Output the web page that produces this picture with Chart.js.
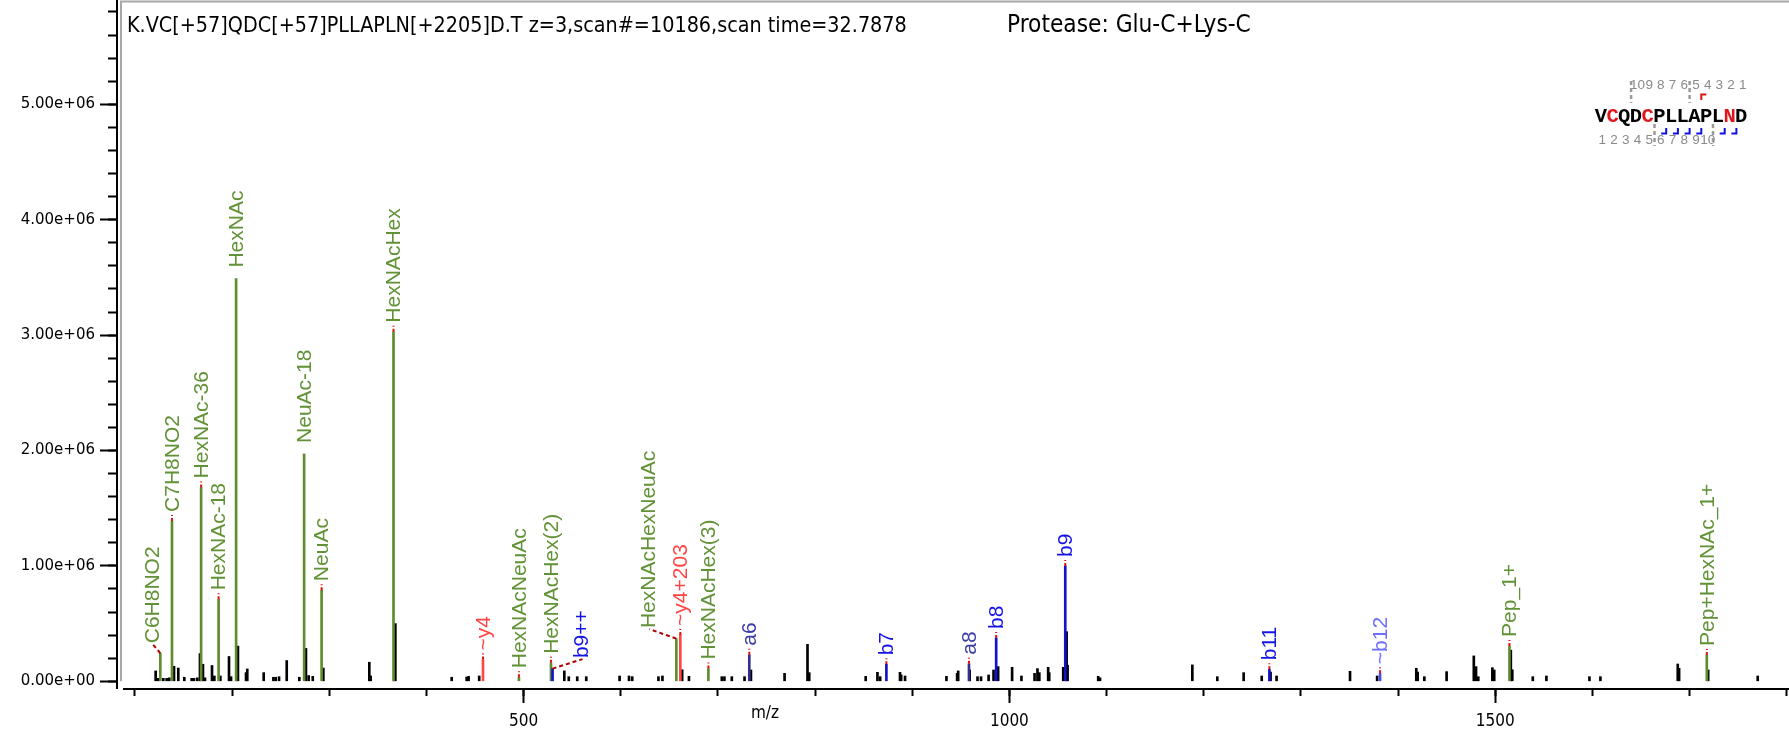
<!DOCTYPE html>
<html><head><meta charset="utf-8">
<script src="https://cdn.jsdelivr.net/npm/chart.js@4.4.1/dist/chart.umd.min.js"></script>
<style>html,body{margin:0;padding:0;background:#fff;overflow:hidden}canvas{display:block}</style>
</head><body>
<canvas id="c" width="1789" height="731"></canvas>
<script>
// ---------------- DATA ----------------
const titleText = 'K.VC[+57]QDC[+57]PLLAPLN[+2205]D.T z=3,scan#=10186,scan time=32.7878';
const proteaseText = 'Protease: Glu-C+Lys-C';
const xAxisTitle = 'm/z';

const xMajorTicks = [500, 1000, 1500];
const xMinorTicks = [100, 200, 300, 400, 500, 600, 700, 800, 900, 1000, 1100, 1200, 1300, 1400, 1500, 1600, 1700, 1800];
const yMajorTicks = [0, 1000000, 2000000, 3000000, 4000000, 5000000];
const yTickLabels = ['0.00e+00', '1.00e+06', '2.00e+06', '3.00e+06', '4.00e+06', '5.00e+06'];
const yMinorTicks = [0, 200000, 400000, 600000, 800000, 1000000, 1200000, 1400000, 1600000, 1800000, 2000000,
  2200000, 2400000, 2600000, 2800000, 3000000, 3200000, 3400000, 3600000, 3800000, 4000000,
  4200000, 4400000, 4600000, 4800000, 5000000, 5200000, 5400000, 5600000, 5800000];

// unannotated peaks
const peakMz = [121.3,124.0,129.2,132.6,135.4,140.2,144.6,150.8,158.4,160.8,
  164.2,166.9,170.0,172.1,179.3,181.7,187.9,196.8,198.9,206.0,
  214.3,215.6,232.5,242.5,244.8,248.3,256.2,269.2,276.0,278.8,
  283.0,293.9,341.2,342.6,368.0,426.0,441.4,443.4,454.3,541.9,
  546.5,555.2,564.5,598.8,608.5,611.8,638.8,642.9,663.2,670.2,
  704.0,706.7,714.3,727.4,734.0,768.6,792.2,794.0,852.1,864.2,
  867.0,887.4,888.6,892.6,935.2,946.2,947.3,959.1,967.2,970.8,
  978.6,983.7,988.4,1002.8,1012.4,1025.9,1028.9,1030.8,1039.9,1041.0,
  1055.4,1058.9,1059.9,1091.4,1093.3,1188.3,1214.0,1241.1,1259.7,1268.8,
  1275.0,1350.6,1378.5,1418.8,1420.2,1427.1,1450.0,1478.0,1480.3,1482.6,
  1497.1,1499.0,1516.1,1517.6,1538.7,1552.7,1597.0,1608.3,1687.9,1689.3,
  1719.2,1770.2];
const peakIntensity = [90000,26000,26000,26000,30000,130000,115000,35000,26000,26000,
  30000,240000,148000,30000,137000,46000,46000,215000,40000,305000,
  75000,107000,75000,35000,35000,40000,180000,35000,285000,50000,
  43000,115000,165000,46000,500000,35000,37000,43000,46000,90000,
  40000,40000,40000,46000,46000,40000,40000,46000,100000,43000,
  40000,40000,40000,40000,98000,69000,320000,75000,43000,78000,
  40000,78000,55000,46000,43000,69000,90000,98000,40000,40000,
  55000,98000,127000,121000,46000,69000,110000,75000,121000,75000,
  121000,430000,140000,43000,30000,142000,40000,75000,46000,80000,
  46000,87000,46000,113000,80000,40000,84000,220000,127000,40000,
  118000,98000,270000,100000,40000,46000,40000,40000,150000,113000,
  98000,46000];

// annotated (matched) peaks
const ionLabel = ['C6H8NO2','C7H8NO2','HexNAc-36','HexNAc-18','HexNAc','NeuAc-18','NeuAc','HexNAcHex',
  '~y4','HexNAcNeuAc','HexNAcHex(2)','b9++','HexNAcHexNeuAc','~y4+203','HexNAcHex(3)','a6',
  'b7','a8','b8','b9','b11','~b12','Pep_1+','Pep+HexNAc_1+'];
const ionMz = [126.1,138.1,168.1,186.1,204.1,274.1,292.1,366.1,
  458.2,495.2,528.2,529.8,657.2,661.3,690.2,732.3,
  873.4,958.4,986.4,1057.5,1267.6,1381.5,1514.7,1717.8];
const ionIntensity = [243000,1390000,1680000,710000,3490000,1970000,790000,3030000,
  188000,35000,160000,110000,370000,402000,110000,230000,
  147000,152000,375000,1000000,104000,70000,306000,228000];
const ionType = ['glycan','glycan','glycan','glycan','glycan','glycan','glycan','glycan',
  'y','glycan','glycan','b','glycan','y','glycan','a',
  'b','a','b','b','b','bWeak','glycan','glycan'];

// peptide sequence map
const sequence = 'VCQDCPLLAPLND';
const modifiedResidues = [2, 5, 12];
const yIonNumbers = [1, 2, 3, 4, 5, 6, 7, 8, 9, 10];
const bIonNumbers = [1, 2, 3, 4, 5, 6, 7, 8, 9, 10];
const bBreaks = [6, 7, 8, 9, 11, 12];
const yBreaks = [9];
const grayTopBreaks = [3, 8];
const grayBottomBreaks = [5, 10];

// ---------------- STYLE / LAYOUT ----------------
const ionStyle = {
  glycan: {bar: '#5E8C2F', text: '#629236'},
  b:      {bar: '#1212CC', text: '#1414E6'},
  a:      {bar: '#30308F', text: '#3C3CA8'},
  y:      {bar: '#FF4646', text: '#FF4646'},
  bWeak:  {bar: '#4C4CE0', text: '#6E6EFF'}
};
const labelLayout = {
  'C6H8NO2':        {dx: -7.5, dy: -10, link: true},
  'b9++':           {dx: 30, dy: -10.5, link: true},
  'HexNAcHexNeuAc': {dx: -27, dy: -10.5, link: true},
  'HexNAc':         {marker: false, dy: -11},
  'NeuAc-18':       {marker: false, dy: -11}
};
const AXIS_X = 117, AXIS_BOTTOM = 688;
const PX0 = 37.8, PXU = 0.97159;           // calibration of reference x axis
const X_MIN = (AXIS_X - PX0) / PXU, X_MAX = (1789 - PX0) / PXU;
const BASE_Y = 681.3, PX_PER_UNIT = 115.4e-6;
const Y_MIN = -(AXIS_BOTTOM - BASE_Y) / PX_PER_UNIT, Y_MAX = BASE_Y / PX_PER_UNIT;

// ---------------- DATASETS ----------------
const types = ['b', 'a', 'y', 'bWeak', 'glycan'];
const datasets = types.map((t, k) => ({
  label: t,
  data: ionMz.map((m, i) => ionType[i] === t ? {x: m, y: ionIntensity[i]} : null).filter(Boolean),
  backgroundColor: ionStyle[t].bar,
  barThickness: 2, grouped: false, borderWidth: 0, order: k,
  xAxisID: 'x', yAxisID: 'y'
}));
datasets.push({
  label: 'peaks',
  data: peakMz.map((m, i) => ({x: m, y: peakIntensity[i]})),
  backgroundColor: '#000000',
  barThickness: 2, grouped: false, borderWidth: 0, order: 10,
  xAxisID: 'x', yAxisID: 'y'
});

// ---------------- PLUGINS ----------------
const framePlugin = {
  id: 'frame',
  beforeDatasetsDraw(chart) {
    const c = chart.ctx;
    c.save();
    c.strokeStyle = '#A8A8A8'; c.lineWidth = 2;
    c.beginPath(); c.moveTo(AXIS_X + 4, BASE_Y); c.lineTo(AXIS_X + 4, 1.5); c.lineTo(1789, 1.5); c.stroke();
    c.restore();
  },
  afterDraw(chart) {
    const c = chart.ctx, xs = chart.scales.x;
    c.save();
    c.strokeStyle = '#000'; c.lineWidth = 2;
    c.beginPath(); c.moveTo(AXIS_X + 6, xs.top + 1); c.lineTo(1789, xs.top + 1); c.stroke();
    c.restore();
  }
};

const labelPlugin = {
  id: 'ionLabels',
  afterDatasetsDraw(chart) {
    const c = chart.ctx, xs = chart.scales.x, ys = chart.scales.y;
    c.save();
    ionLabel.forEach((lab, i) => {
      const lay = labelLayout[lab] || {};
      const px = xs.getPixelForValue(ionMz[i]);
      const top = ys.getPixelForValue(ionIntensity[i]);
      const ax = px + (lay.dx !== undefined ? lay.dx : 1);
      const ay = top + (lay.dy !== undefined ? lay.dy : -9);
      if (lay.link) {
        c.strokeStyle = '#B00000'; c.lineWidth = 2; c.setLineDash([4, 3]);
        c.beginPath(); c.moveTo(px, top); c.lineTo(ax, ay + 1); c.stroke();
      } else if (lay.marker !== false) {
        c.strokeStyle = '#E41010'; c.lineWidth = 2; c.setLineDash([3, 2]);
        c.beginPath(); c.moveTo(px, top); c.lineTo(px, top - 6); c.stroke();
      }
      c.setLineDash([]);
      c.save();
      c.translate(ax, ay);
      c.rotate(-Math.PI / 2);
      c.font = '21px "Liberation Sans", Arial, sans-serif';
      c.fillStyle = ionStyle[ionType[i]].text;
      c.textAlign = 'left'; c.textBaseline = 'middle';
      c.fillText(lab, 0, 0);
      c.restore();
    });
    c.restore();
  }
};

function fitSize(c, text, family, target, guess) {
  c.font = guess + 'px "' + family + '"';
  return guess * target / c.measureText(text).width;
}

const textPlugin = {
  id: 'texts',
  afterDraw(chart) {
    const c = chart.ctx;
    c.save();
    c.fillStyle = '#000'; c.textAlign = 'left'; c.textBaseline = 'alphabetic';
    let s = fitSize(c, titleText, 'DejaVu Sans Condensed', 780, 19);
    c.font = s + 'px "DejaVu Sans Condensed"';
    c.fillText(titleText, 127, 31.5);
    s = fitSize(c, proteaseText, 'DejaVu Sans Condensed', 244, 19);
    c.font = s + 'px "DejaVu Sans Condensed"';
    c.fillText(proteaseText, 1007, 31.5);
    // axis title
    c.font = '17px "DejaVu Sans Condensed"';
    c.textAlign = 'center'; c.textBaseline = 'middle';
    c.fillText(xAxisTitle, 765, 714);

    // sequence map
    const left = 1595, adv = 11.7;
    const cx = r => left + adv * (r - 0.5);
    const bx = r => left + adv * r;
    c.font = 'bold 20.5px "Liberation Mono", monospace';
    c.textAlign = 'center'; c.textBaseline = 'alphabetic';
    for (let i = 0; i < sequence.length; i++) {
      c.fillStyle = modifiedResidues.includes(i + 1) ? '#E3141C' : '#000';
      c.fillText(sequence[i], cx(i + 1), 122);
    }
    c.font = '13.5px "Liberation Sans", Arial';
    c.fillStyle = '#8A8A8A'; c.textBaseline = 'middle';
    yIonNumbers.forEach(k => c.fillText(String(k), cx(sequence.length + 1 - k) + 1.5, 85.5));
    bIonNumbers.forEach(k => c.fillText(String(k), cx(k) + 1.5, 140));
    c.lineWidth = 2.5; c.strokeStyle = '#9A9A9A'; c.setLineDash([4, 3]);
    grayTopBreaks.forEach(r => { c.beginPath(); c.moveTo(bx(r) + 1, 81); c.lineTo(bx(r) + 1, 103); c.stroke(); });
    grayBottomBreaks.forEach(r => { c.beginPath(); c.moveTo(bx(r) + 1, 124); c.lineTo(bx(r) + 1, 146); c.stroke(); });
    c.setLineDash([]); c.lineWidth = 2;
    c.strokeStyle = '#E01010';
    yBreaks.forEach(r => { const x = bx(r) + 1; c.beginPath(); c.moveTo(x, 100); c.lineTo(x, 94.5); c.lineTo(x + 5, 94.5); c.stroke(); });
    c.strokeStyle = '#1010E0';
    bBreaks.forEach(r => { const x = bx(r) + 1; c.beginPath(); c.moveTo(x - 5, 133.5); c.lineTo(x, 133.5); c.lineTo(x, 128); c.stroke(); });
    c.restore();
  }
};

// ---------------- CHART ----------------
const tickSet = list => scale => { scale.ticks = list.map(v => ({value: v})); };
const noPad = s => { s.paddingTop = 0; s.paddingBottom = 0; s.paddingLeft = 0; s.paddingRight = 0; };
new Chart(document.getElementById('c'), {
  type: 'bar',
  data: {datasets},
  options: {
    responsive: false, animation: false, devicePixelRatio: 1,
    layout: {padding: 0},
    plugins: {legend: {display: false}, tooltip: {enabled: false}, title: {display: false}},
    scales: {
      x: {
        type: 'linear', position: 'bottom', min: X_MIN, max: X_MAX, offset: false, weight: 1,
        afterFit: s => { s.height = 731 - AXIS_BOTTOM; noPad(s); }, afterBuildTicks: tickSet(xMajorTicks),
        grid: {drawOnChartArea: false, drawTicks: true, tickLength: 15, tickWidth: 2, tickColor: '#000', offset: false},
        border: {display: false},
        ticks: {color: '#000', font: {family: 'DejaVu Sans Condensed', size: 17}, padding: 8,
          maxRotation: 0, autoSkip: false, callback: v => String(v)}
      },
      xMinor: {
        type: 'linear', axis: 'x', position: 'bottom', min: X_MIN, max: X_MAX, offset: false, weight: 0,
        afterFit: s => { s.height = 0; noPad(s); }, afterBuildTicks: tickSet(xMinorTicks),
        grid: {drawOnChartArea: false, drawTicks: true, tickLength: 8, tickWidth: 2, tickColor: '#000', offset: false},
        border: {display: false}, ticks: {display: false}
      },
      y: {
        type: 'linear', position: 'left', min: Y_MIN, max: Y_MAX, weight: 1,
        afterFit: s => { s.width = AXIS_X; noPad(s); }, afterBuildTicks: tickSet(yMajorTicks),
        grid: {drawOnChartArea: false, drawTicks: true, tickLength: 17, tickWidth: 2, tickColor: '#000'},
        border: {display: true, color: '#000', width: 2},
        ticks: {color: '#000', font: {family: 'DejaVu Sans', size: 15}, padding: 5,
          autoSkip: false, callback: (v, i) => yTickLabels[i]}
      },
      yMinor: {
        type: 'linear', axis: 'y', position: 'left', min: Y_MIN, max: Y_MAX, weight: 0,
        afterFit: s => { s.width = 0; noPad(s); }, afterBuildTicks: tickSet(yMinorTicks),
        grid: {drawOnChartArea: false, drawTicks: true, tickLength: 9, tickWidth: 2, tickColor: '#000'},
        border: {display: false}, ticks: {display: false}
      }
    }
  },
  plugins: [framePlugin, labelPlugin, textPlugin]
});
</script>
</body></html>
